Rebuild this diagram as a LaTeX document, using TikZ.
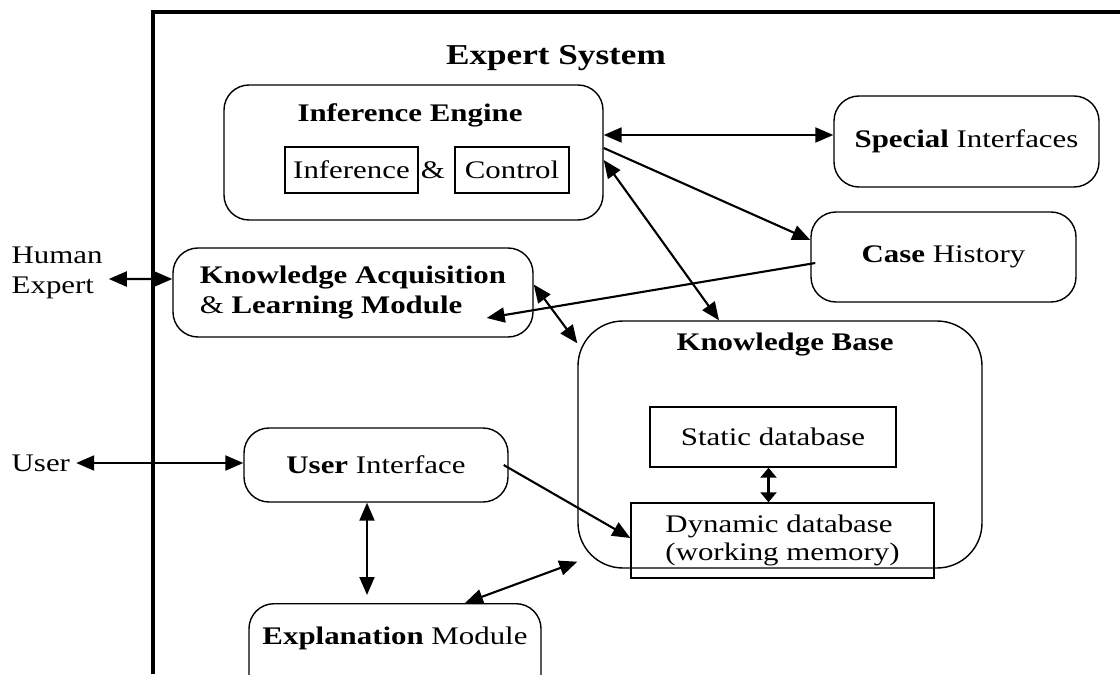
\documentclass[tikz,border=0pt]{standalone}
\usepackage{fontspec}
\setmainfont{Liberation Serif}[FakeStretch=1.22]
\usetikzlibrary{arrows.meta}

\begin{document}
\begin{tikzpicture}[
	font=\fontsize{14.4}{17}\selectfont,
	modbox/.style={draw, line width=0.8pt, rounded corners=0.5cm},
	inbox/.style={draw, line width=0.8pt},
	onelink/.style={line width=1.2pt, -{Triangle[length=0.36cm, width=0.3cm]}},
	twolink/.style={line width=1.2pt, {Triangle[length=0.36cm, width=0.3cm]}-{Triangle[length=0.36cm, width=0.3cm]}},
	shortlink/.style={line width=1.2pt, {Triangle[length=0.2cm, width=0.32cm]}-{Triangle[length=0.2cm, width=0.32cm]}}
]
	\useasboundingbox (0,0) rectangle (22.4,-13.48);
	\draw[line width=2.3pt] (3.06,-13.48) -- (3.06,-0.24) -- (22.4,-0.24);
	\node[font=\fontsize{16.4}{19}\selectfont\bfseries] (title) at (11.12,-1.16) {Expert System};

	\node[modbox, minimum width=7.58cm, minimum height=2.7cm] (ie) at (8.27,-3.05) {};
	\node (ietitle) at (8.2,-2.3) {\textbf{Inference Engine}};
	\node[inbox, minimum width=2.66cm, minimum height=0.92cm] (infer) at (7.03,-3.4) {Inference};
	\node (amp) at (8.66,-3.4) {\&};
	\node[inbox, minimum width=2.28cm, minimum height=0.92cm] (control) at (10.24,-3.4) {Control};

	\node[modbox, minimum width=5.3cm, minimum height=1.82cm] (si) at (19.33,-2.83) {\textbf{Special} Interfaces};
	\node[modbox, minimum width=5.3cm, minimum height=1.8cm] (ch) at (18.87,-5.14) {\textbf{Case} History};
	\node[modbox, minimum width=7.2cm, minimum height=1.78cm, align=left] (ka) at (7.06,-5.85) {\textbf{Knowledge Acquisition}\\\& \textbf{Learning Module}};

	\node[modbox, rounded corners=0.9cm, minimum width=8.08cm, minimum height=4.94cm] (kb) at (15.6,-8.89) {};
	\node (kbtitle) at (15.7,-6.9) {\textbf{Knowledge Base}};
	\node[inbox, minimum width=4.92cm, minimum height=1.2cm] (static) at (15.46,-8.74) {Static database};
	\node[inbox, minimum width=6.06cm, minimum height=1.5cm, align=left, font=\fontsize{14.4}{15.5}\selectfont] (dynamic) at (15.65,-10.81) {Dynamic database\\(working memory)};

	\node[modbox, minimum width=5.28cm, minimum height=1.48cm] (ui) at (7.52,-9.3) {\textbf{User} Interface};
	\node[modbox, anchor=north, minimum width=5.84cm, text height=0.7cm, text depth=1.6cm] (expl) at (7.9,-12.06) {\textbf{Explanation} Module};

	\node[anchor=west, align=left] (human) at (0.11,-5.45) {Human\\Expert};
	\node[anchor=west] (user) at (0.11,-9.26) {User};

	\draw[twolink] ([yshift=-0.13cm]human.east) -- ([yshift=0.27cm]ka.west);
	\draw[twolink] (user.east) -- (user.east -| ui.west);
	\draw[twolink] ([yshift=0.35cm]ie.east) -- ([yshift=0.35cm]ie.east -| si.west);
	\draw[onelink] ([yshift=0.09cm]ie.east) -- ([yshift=0.34cm]ch.west);
	\draw[twolink] ([yshift=-0.15cm]ie.east) -- ([xshift=-1.22cm]kb.north);
	\draw[onelink] ([xshift=0.1cm, yshift=-0.12cm]ch.west) -- ([xshift=-0.94cm, yshift=-0.51cm]ka.east);
	\draw[twolink] ([yshift=0.16cm]ka.east) -- ([yshift=-0.46cm]kb.north west);
	\draw[shortlink] ([xshift=-0.09cm]static.south) -- ([xshift=-0.09cm]static.south |- dynamic.north);
	\draw[onelink] ([xshift=-0.1cm]ui.east) -- ([yshift=0.05cm]dynamic.west);
	\draw[twolink] ([xshift=-0.18cm]ui.south) -- ([xshift=-0.18cm, yshift=0.16cm]ui.south |- expl.north);
	\draw[twolink] ([xshift=1.4cm]expl.north) -- ([yshift=0.14cm]kb.south west);
\end{tikzpicture}
\end{document}
